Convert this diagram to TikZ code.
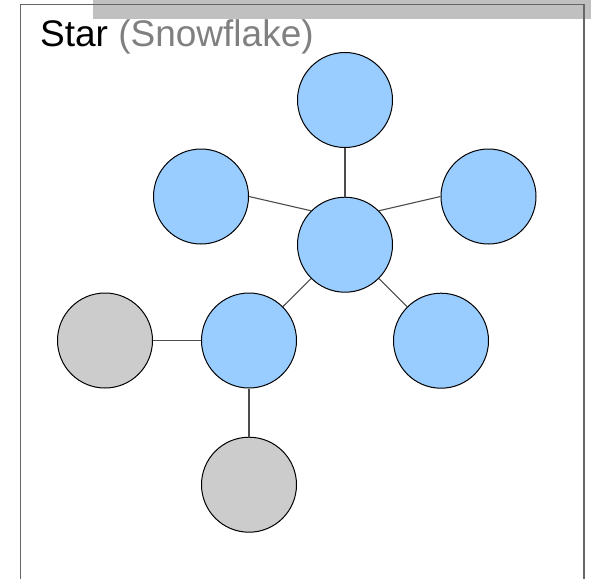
\documentclass[tikz,border=0pt]{standalone}
\usepackage{fontspec}
\setmainfont{Liberation Sans}
\usetikzlibrary{positioning}
\definecolor{hubblue}{HTML}{99CCFF}
\definecolor{leafgray}{HTML}{CCCCCC}
\definecolor{bargray}{HTML}{C0C0C0}
\begin{document}
\begin{tikzpicture}[x=1pt,y=-1pt,
  hub/.style={circle,draw=black,line width=1pt,fill=hubblue,minimum size=95pt,inner sep=0pt},
  leaf/.style={hub,fill=leafgray},
  link/.style={draw=black!70,line width=1.1pt}]
\useasboundingbox (0,0) rectangle (591,579);
\fill[color=bargray] (93,0) rectangle (591,19);
\draw[color=black!60,line width=1.5pt] (20.5,579) -- (20.5,4.5) -- (584,4.5) -- (584,579);
\node[anchor=base west,inner sep=0pt,font=\fontsize{37}{44}\selectfont] (title) at (40,46) {Star \textcolor{black!50}{(Snowflake)}};
\node[hub] (c_0) at (345,244.7) {};
\node[hub] (c_n) at (345,100) {};
\node[hub] (c_nw) at (201,196.5) {};
\node[hub] (c_ne) at (488.5,196.5) {};
\node[hub] (c_se) at (441,340.7) {};
\node[hub] (c_sw) at (249,340.5) {};
\node[leaf] (l_w) at (105,340.5) {};
\node[leaf] (l_s) at (249,484.7) {};
\draw[link] (c_n) -- (c_0);
\draw[link] (c_nw.east) -- (c_0.north west);
\draw[link] (c_ne.west) -- (c_0.north east);
\draw[link] (c_0.south east) -- (c_se.north west);
\draw[link] (c_0.south west) -- (c_sw.north east);
\draw[link] (l_w) -- (c_sw);
\draw[link] (c_sw) -- (l_s);
\end{tikzpicture}
\end{document}
